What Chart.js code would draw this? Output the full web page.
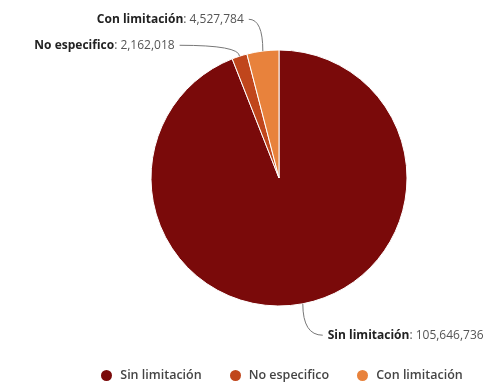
<!DOCTYPE html>
<html>
<head>
<meta charset="utf-8">
<script src="https://cdn.jsdelivr.net/npm/chart.js@4"></script>
<style>
  html,body{margin:0;padding:0;background:#fff;}
  #wrap{position:relative;width:490px;height:385px;}
  #legend{position:absolute;left:0;top:366px;width:490px;display:flex;justify-content:center;padding-left:74px;box-sizing:border-box;font-family:"Open Sans",sans-serif;font-size:12.5px;font-weight:600;color:#444;line-height:18px;}
  .li{display:flex;align-items:center;margin:0 14px;white-space:nowrap;}
  .dot{width:11px;height:11px;border-radius:50%;margin-right:8px;}
</style>
</head>
<body>
<div id="wrap">
  <canvas id="c" width="490" height="385"></canvas>
  <div id="legend"></div>
</div>
<script>
const categories = ["Sin limitación", "No especifico", "Con limitación"];
const values = [105646736, 2162018, 4527784];
const colors = ["#7a0a0a", "#c0461c", "#e8823c"];

const fmt = v => v.toString().replace(/\B(?=(\d{3})+(?!\d))/g, ",");

const labelPlugin = {
  id: 'pieLabels',
  afterDatasetsDraw(chart) {
    const ctx = chart.ctx;
    const meta = chart.getDatasetMeta(0);
    const d = 32, spacing = 26, gap = 15;
    const FS = 12;
    const items = meta.data.map((arc, i) => {
      const a = (arc.startAngle + arc.endAngle) / 2;
      const cx = arc.x, cy = arc.y, r = arc.outerRadius;
      return {
        i, cx, cy, r, R: r + d,
        px: cx + r * Math.cos(a), py: cy + r * Math.sin(a),
        ty: cy + (r + d) * Math.sin(a),
        left: Math.cos(a) < 0
      };
    });
    [true, false].forEach(side => {
      const s = items.filter(o => o.left === side).sort((p, q) => p.ty - q.ty);
      for (let k = 1; k < s.length; k++) {
        if (s[k].ty < s[k - 1].ty + spacing) s[k].ty = s[k - 1].ty + spacing;
      }
    });
    ctx.save();
    ctx.textBaseline = 'middle';
    items.forEach(o => {
      const dy = o.ty - o.cy;
      const dx = Math.sqrt(Math.max(0, o.R * o.R - dy * dy));
      const lx = o.left ? o.cx - dx - gap : o.cx + dx + gap + 4;
      const name = categories[o.i];
      const val = ': ' + fmt(values[o.i]);
      const bold = 'bold ' + FS + 'px "Open Sans", sans-serif';
      const norm = FS + 'px "Open Sans", sans-serif';
      ctx.font = bold;
      const wName = ctx.measureText(name).width;
      ctx.font = norm;
      const wVal = ctx.measureText(val).width;
      const x0 = o.left ? lx - wName - wVal : lx;
      ctx.font = bold;
      ctx.fillStyle = '#222';
      ctx.textAlign = 'left';
      ctx.fillText(name, x0, o.ty);
      ctx.font = norm;
      ctx.fillStyle = '#555';
      ctx.fillText(val, x0 + wName, o.ty);
      // connector
      const sx = o.left ? lx + 5 : lx - 5;
      ctx.beginPath();
      ctx.moveTo(sx, o.ty);
      ctx.quadraticCurveTo(o.px, o.ty, o.px, o.py);
      ctx.strokeStyle = '#777';
      ctx.lineWidth = 1;
      ctx.stroke();
    });
    ctx.restore();
  }
};

new Chart(document.getElementById('c'), {
  type: 'pie',
  data: {
    labels: categories,
    datasets: [{
      data: values,
      backgroundColor: colors,
      borderColor: '#ffffff',
      borderWidth: 1,
      radius: 128
    }]
  },
  options: {
    responsive: false,
    animation: false,
    layout: { padding: { left: 68, right: 0, top: 0, bottom: 29 } },
    plugins: { legend: { display: false }, tooltip: { enabled: false } }
  },
  plugins: [labelPlugin]
});

const lg = document.getElementById('legend');
categories.forEach((c, i) => {
  const el = document.createElement('div');
  el.className = 'li';
  el.innerHTML = '<span class="dot" style="background:' + colors[i] + '"></span><span>' + c + '</span>';
  lg.appendChild(el);
});
</script>
</body>
</html>
